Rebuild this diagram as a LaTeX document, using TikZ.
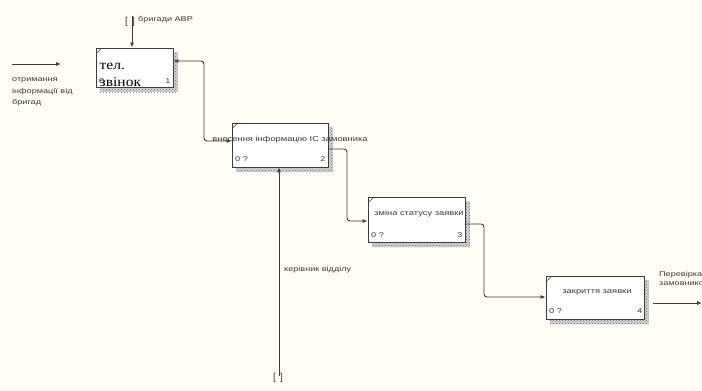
\documentclass[tikz,border=0pt]{standalone}
\usepackage{fontspec}
\setmainfont{Liberation Sans}
\newfontfamily\widesans[FakeStretch=1.3]{Liberation Sans}
\newfontfamily\boxserif[FakeStretch=1.15]{Liberation Serif}
\usetikzlibrary{patterns,arrows.meta}
\definecolor{bgc}{HTML}{FFFDF4}
\definecolor{linec}{HTML}{3C3C3C}
\definecolor{txtc}{HTML}{3A3A3A}
\begin{document}
\begin{tikzpicture}[x=1pt,y=-1pt,
  actbox/.style={draw=linec, fill=white, line width=0.8pt, inner sep=0pt},
  shadowbox/.style={fill=gray!35, postaction={pattern=crosshatch dots, pattern color=gray!90!black}},
  conn/.style={draw=linec, line width=0.9pt, rounded corners=3pt},
  tip/.style={-{Latex[length=5pt,width=4pt]}},
  lbl/.style={font=\widesans\fontsize{7}{8}\selectfont, text=txtc, inner sep=0pt},
  num/.style={font=\widesans\fontsize{7}{8}\selectfont, text=txtc, inner sep=0pt}
]
\fill[bgc] (0,0) rectangle (702,391);
\useasboundingbox (0,0) rectangle (702,391);

% shadows
\fill[shadowbox] (100,52) rectangle (178,92);
\fill[shadowbox] (236,127) rectangle (333,172);
\fill[shadowbox] (372,201) rectangle (470,247);
\fill[shadowbox] (550,280) rectangle (649,324);

% boxes
\node[actbox, minimum width=77pt, minimum height=39pt] (b1) at (134.5,67.5) {};
\node[actbox, minimum width=96pt, minimum height=44pt] (b2) at (280,145) {};
\node[actbox, minimum width=97pt, minimum height=45pt] (b3) at (416.5,219.5) {};
\node[actbox, minimum width=98pt, minimum height=43pt] (b4) at (595,297.5) {};

% corner ticks
\foreach \b in {b1,b2,b3,b4}{
  \draw[linec, line width=0.5pt] ([xshift=1.5pt,yshift=-5pt]\b.north west) -- ([xshift=5pt,yshift=-1.5pt]\b.north west);
}

% box texts
\node[font=\boxserif\fontsize{13.5}{17}\selectfont, text=black, align=left, anchor=base west, inner sep=0pt] (t1) at (99.5,86) {тел.\\звінок};
\node[lbl, font=\widesans\fontsize{7.2}{8}\selectfont] (t2) at (290,140) {внесення інформацію ІС замовника};
\node[lbl, font=\widesans\fontsize{7.2}{8}\selectfont] (t3) at (419,214) {зміна статусу заявки};
\node[lbl, font=\widesans\fontsize{7.2}{8}\selectfont] (t4) at (597,292) {закриття заявки};

% corner numbers
\node[num, anchor=west] (n1a) at (99,81) {0};
\node[num] (n1b) at (168,81) {1};
\node[num, anchor=west] (n2a) at (235,159) {0 ?};
\node[num] (n2b) at (323,159) {2};
\node[num, anchor=west] (n3a) at (371,235) {0 ?};
\node[num] (n3b) at (460,235) {3};
\node[num, anchor=west] (n4a) at (549,311) {0 ?};
\node[num] (n4b) at (640,311) {4};

% input arrow
\coordinate (ins) at (12,64);
\coordinate (ine) at (61,64);
\draw[conn, tip] (ins) -- (ine);
\node[lbl, align=left, anchor=north west, font=\widesans\fontsize{7}{11.5}\selectfont] (inl) at (12,78) {отримання\\інформації від\\бригад};

% control arrow box 1
\coordinate (c1) at (132,16);
\draw[conn, tip] (c1) -- (c1 |- b1.north);
\node[lbl, font=\fontsize{10}{11}\selectfont] (c1b) at (130,22) {[\;\,]};
\node[lbl, anchor=west] (c1l) at (138,20) {бригади АВР};

% box1 <-> box2
\draw[conn, {Latex[length=5pt,width=4pt]}-{Latex[length=5pt,width=4pt]}] (b1.east |- 0,61) -- (204,61) -- (204,141) -- (b2.west |- 0,141);

% box2 -> box3
\draw[conn, tip] (b2.east |- 0,149) -- (347,149) -- (347,221) -- (b3.west |- 0,221);

% box3 -> box4
\draw[conn, tip] (b3.east |- 0,224) -- (484,224) -- (484,297) -- (b4.west |- 0,297);

% output box4
\coordinate (os) at (653,303);
\coordinate (oe) at (702,303);
\draw[conn, tip] (os) -- (oe);
\node[lbl, align=left, anchor=north west, font=\widesans\fontsize{7}{9.5}\selectfont] (outl) at (659,271) {Перевірка\\замовником};

% mechanism box2
\coordinate (m2) at (279,376);
\draw[conn, tip] (m2) -- (m2 |- b2.south);
\node[lbl, font=\fontsize{10}{11}\selectfont] (m2b) at (278,378) {[\;\,]};
\node[lbl, anchor=west] (m2l) at (284,270) {керівник відділу};
\end{tikzpicture}
\end{document}
